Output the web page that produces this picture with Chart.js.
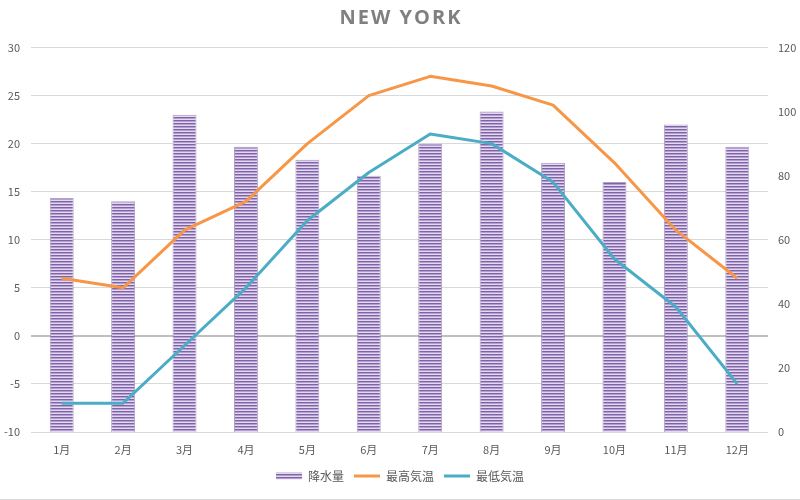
<!DOCTYPE html>
<html>
<head>
<meta charset="utf-8">
<script src="https://cdn.jsdelivr.net/npm/chart.js@4"></script>
<style>
  html, body { margin: 0; padding: 0; background: #fff; }
  #wrap { width: 800px; height: 500px; }
</style>
</head>
<body>
<div id="wrap"><canvas id="myChart"></canvas></div>
<script>
const months = ["1月", "2月", "3月", "4月", "5月", "6月", "7月", "8月", "9月", "10月", "11月", "12月"];
const rain = [73, 72, 99, 89, 85, 80, 90, 100, 84, 78, 96, 89];
const highTemp = [6, 5, 11, 14, 20, 25, 27, 26, 24, 18, 11, 6];
const lowTemp = [-7, -7, -1, 5, 12, 17, 21, 20, 16, 8, 3, -5];
const seriesNames = ["降水量", "最高気温", "最低気温"];

const font = { family: "'Noto Sans CJK JP', 'Noto Sans', sans-serif", size: 11 };
const textColor = "#595959";

// striped fill like the excel pattern
function stripes() {
  const c = document.createElement("canvas");
  c.width = 4;
  c.height = 3;
  const x = c.getContext("2d");
  x.fillStyle = "#7f62a8";
  x.fillRect(0, 0, 4, 1);
  x.fillStyle = "#b3a0d0";
  x.fillRect(0, 1, 4, 1);
  x.fillStyle = "#e2d9ef";
  x.fillRect(0, 2, 4, 1);
  return x.createPattern(c, "repeat");
}
const barFill = stripes();

const titlePlugin = {
  id: "nyTitle",
  afterDraw(chart) {
    const ctx = chart.ctx;
    ctx.save();
    ctx.fillStyle = "#808080";
    ctx.font = "bold 20px 'Open Sans', sans-serif";
    ctx.letterSpacing = "2px";
    ctx.textAlign = "center";
    ctx.textBaseline = "middle";
    ctx.fillText("NEW YORK", 401, 18);
    ctx.letterSpacing = "0px";
    ctx.strokeStyle = "#d9d9d9";
    ctx.lineWidth = 1;
    ctx.beginPath();
    ctx.moveTo(0, 499.5);
    ctx.lineTo(800, 499.5);
    ctx.stroke();
    ctx.restore();
  },
};

new Chart(document.getElementById("myChart"), {
  type: "bar",
  data: {
    labels: months,
    datasets: [
      {
        type: "bar",
        label: seriesNames[0],
        data: rain,
        yAxisID: "y1",
        backgroundColor: barFill,
        borderColor: "rgba(128, 100, 162, 0.6)",
        borderWidth: 1,
        barPercentage: 0.39,
        categoryPercentage: 1,
        order: 3,
      },
      {
        type: "line",
        label: seriesNames[1],
        data: highTemp,
        yAxisID: "y",
        borderColor: "#f79646",
        borderWidth: 3,
        pointRadius: 0,
        borderJoinStyle: "round",
        tension: 0,
        order: 1,
      },
      {
        type: "line",
        label: seriesNames[2],
        data: lowTemp,
        yAxisID: "y",
        borderColor: "#4bacc6",
        borderWidth: 3,
        pointRadius: 0,
        borderJoinStyle: "round",
        tension: 0,
        order: 2,
      },
    ],
  },
  options: {
    responsive: true,
    maintainAspectRatio: false,
    animation: false,
    layout: { padding: { top: 47.5, bottom: 8, left: 0, right: 0 } },
    scales: {
      x: {
        grid: { display: false, drawTicks: false },
        border: { display: false },
        ticks: { color: textColor, font, padding: 11 },
        afterFit: (s) => { s.height = 28; },
      },
      y: {
        position: "left",
        min: -10,
        max: 30,
        ticks: { stepSize: 5, color: textColor, font, padding: 11 },
        grid: {
          drawTicks: false,
          color: (c) => (c.tick && c.tick.value === 0 ? "#bfbfbf" : "#d9d9d9"),
          lineWidth: (c) => (c.tick && c.tick.value === 0 ? 2 : 1),
        },
        border: { display: false },
        afterFit: (s) => { s.width = 31; },
      },
      y1: {
        position: "right",
        min: 0,
        max: 120,
        ticks: { stepSize: 20, color: textColor, font, padding: 10 },
        grid: { display: false, drawTicks: false },
        border: { display: false },
        afterFit: (s) => { s.width = 32; },
      },
    },
    plugins: {
      title: { display: false },
      tooltip: { enabled: false },
      legend: {
        position: "bottom",
        labels: {
          usePointStyle: true,
          pointStyleWidth: 26,
          boxHeight: 7,
          padding: 10,
          color: textColor,
          font: { family: font.family, size: 12 },
          sort: (a, b) => a.datasetIndex - b.datasetIndex,
          generateLabels: (chart) =>
            chart.data.datasets.map((ds, i) => ({
              text: ds.label,
              fillStyle: i === 0 ? barFill : ds.borderColor,
              strokeStyle: i === 0 ? "#8064a2" : ds.borderColor,
              lineWidth: i === 0 ? 0 : 3,
              pointStyle: i === 0 ? "rect" : "line",
              fontColor: textColor,
              hidden: false,
              datasetIndex: i,
            })),
        },
      },
    },
  },
  plugins: [titlePlugin],
});
</script>
</body>
</html>
